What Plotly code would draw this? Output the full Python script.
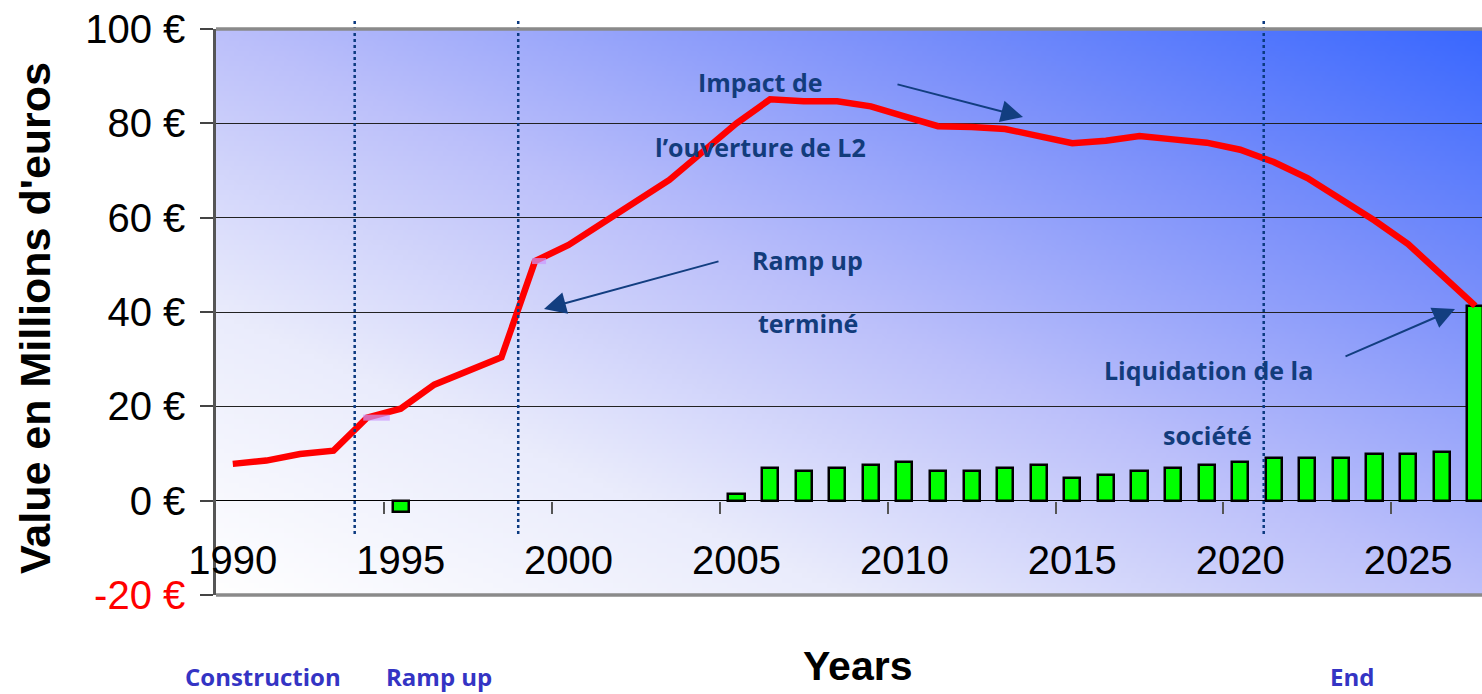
import zlib, struct, base64
import numpy as np
import plotly.graph_objects as go

# ---------------- data ----------------
years = list(range(1990, 2028))
value_line = [7.8, 8.5, 9.9, 10.6, 17.6, 19.5, 24.6, 27.6, 30.4, 50.8,
              54.2, 58.8, 63.3, 68.0, 74.0, 80.0, 85.1, 84.7, 84.7, 83.6,
              81.5, 79.4, 79.2, 78.8, 77.3, 75.8, 76.3, 77.3, 76.6, 75.9,
              74.4, 71.8, 68.4, 64.0, 59.4, 54.4, 48.0, 41.3]
cash_flows = [None, None, None, None, None, -2.3,
              None, None, None, None, None, None, None, None, None,
              1.5, 7.0, 6.2, 7.0, 7.6, 8.3, 6.2, 6.2, 7.0, 7.6, 4.9,
              5.5, 6.2, 7.0, 7.6, 8.3, 9.1, 9.1, 9.1, 9.8, 9.8, 10.4, 41.3]
marker_years = [1994, 1999]
marker_values = [value_line[years.index(y)] for y in marker_years]
x_tick_years = [1990, 1995, 2000, 2005, 2010, 2015, 2020, 2025]
x_tick_labels = [str(y) for y in x_tick_years]
y_tick_vals = [-20, 0, 20, 40, 60, 80, 100]
y_tick_labels = ['<span style="color:#FF0000">-20 €</span>', '0 €', '20 €', '40 €', '60 €', '80 €', '100 €']
phase_lines = [1993.63, 1998.5, 2020.7]

# ---------------- gradient background image ----------------
def gradient_png(w=254, h=114):
    u = np.linspace(0, 1, w)[None, :]
    v = np.linspace(1, 0, h)[:, None]
    t = (u + v) / 2.0
    stops_t = [0.0, 0.25, 0.5, 0.75, 1.0]
    stops_c = np.array([[255, 255, 255], [234, 236, 252], [188, 192, 250],
                        [126, 146, 250], [58, 104, 255]], dtype=float)
    img = np.zeros((h, w, 3))
    for ch in range(3):
        img[:, :, ch] = np.interp(t, stops_t, stops_c[:, ch])
    img = img.astype(np.uint8)
    raw = bytearray()
    for r in range(h):
        raw.append(0)
        raw.extend(img[r].tobytes())

    def chunk(tag, data):
        c = struct.pack('>I', len(data)) + tag + data
        return c + struct.pack('>I', zlib.crc32(tag + data) & 0xffffffff)
    png = (b'\x89PNG\r\n\x1a\n'
           + chunk(b'IHDR', struct.pack('>IIBBBBB', w, h, 8, 2, 0, 0, 0))
           + chunk(b'IDAT', zlib.compress(bytes(raw), 9))
           + chunk(b'IEND', b''))
    return 'data:image/png;base64,' + base64.b64encode(png).decode()

fig = go.Figure()

fig.add_trace(go.Bar(
    x=years, y=cash_flows, width=0.48,
    marker=dict(color='#00FF00', line=dict(color='#000000', width=2.5)),
    showlegend=False, hoverinfo='skip'))

fig.add_trace(go.Scatter(
    x=years, y=value_line, mode='lines',
    line=dict(color='#FF0000', width=6.5),
    showlegend=False, hoverinfo='skip'))

fig.add_trace(go.Scatter(
    x=[y + 0.28 for y in marker_years[:1]] + [y + 0.12 for y in marker_years[1:]],
    y=marker_values, mode='markers',
    marker=dict(symbol='line-ew', size=[19, 10],
                line=dict(color='#CC99FF', width=6)),
    showlegend=False, hoverinfo='skip'))

W, H = 1482, 694
ML, MR, MT, MB = 216, 0, 29, 99
PW, PH = W - ML - MR, H - MT - MB

def px(xp):
    return (xp - ML) / PW

def py(yp):
    return (H - MB - yp) / PH

fig.update_layout(
    width=W, height=H,
    margin=dict(l=ML, r=MR, t=MT, b=MB, pad=0),
    paper_bgcolor='white', plot_bgcolor='rgba(0,0,0,0)',
    bargap=0,
    font=dict(family='Liberation Sans, Arial, sans-serif', color='black'),
    images=[dict(source=gradient_png(), xref='paper', yref='paper', x=0, y=1,
                 sizex=1, sizey=1, xanchor='left', yanchor='top',
                 sizing='stretch', layer='below')],
    xaxis=dict(range=[1989.5, 2027.2], anchor='free', position=20 / 120,
               tickmode='array', tickvals=x_tick_years, ticktext=x_tick_labels,
               ticks='', showgrid=False, showline=False, zeroline=False,
               tickfont=dict(size=40, family='Liberation Sans, Arial'),
               ticklabelstandoff=32,
               minor=dict(tickmode='array',
                          tickvals=[y - 0.5 for y in x_tick_years[1:]] + [2029.5],
                          ticks='outside', ticklen=12, tickcolor='#555555',
                          tickwidth=1.5, showgrid=False)),
    yaxis=dict(range=[-20, 100], tickmode='array', tickvals=y_tick_vals,
               ticktext=y_tick_labels, ticks='outside', ticklen=13,
               tickcolor='#444444', tickwidth=1.5,
               showline=True, linecolor='#555555', linewidth=2.5,
               showgrid=True, gridcolor='#222222', gridwidth=1,
               zeroline=True, zerolinecolor='#000000', zerolinewidth=1,
               ticklabelstandoff=7,
               tickfont=dict(size=40, family='Liberation Sans, Arial')),
)

shapes = []
for xv in phase_lines:
    shapes.append(dict(type='line', xref='x', yref='paper', x0=xv, x1=xv,
                       y0=py(534), y1=py(18),
                       line=dict(color='#0B3A80', width=2.5, dash='dot'),
                       layer='above'))
# plot frame (top and bottom grey edges)
shapes.append(dict(type='line', xref='paper', yref='paper', x0=0, x1=1, y0=1, y1=1,
                   line=dict(color='#8A8A8A', width=3.5), layer='above'))
shapes.append(dict(type='line', xref='paper', yref='paper', x0=0, x1=1, y0=0, y1=0,
                   line=dict(color='#8A8A8A', width=3.5), layer='above'))
fig.update_layout(shapes=shapes)

ann_color = '#123C7C'
ann_font = dict(family='Open Sans, Lato, sans-serif', size=25, color=ann_color, weight='bold')
label_font = dict(family='Open Sans, Lato, sans-serif', size=24, color='#3434C4', weight='bold')

annotations = []
def txt(text, xp, yp, font):
    annotations.append(dict(text=text, xref='paper', yref='paper', x=px(xp), y=py(yp),
                            xanchor='center', yanchor='middle', showarrow=False, font=font))

txt('Impact de', 760, 82, ann_font)
txt('l\u2019ouverture de L2', 760, 147, ann_font)
txt('Ramp up', 807, 260, ann_font)
txt('terminé', 808, 323, ann_font)
txt('Liquidation de la', 1208, 370, ann_font)
txt('société', 1207, 435, ann_font)
txt('Construction', 263, 676, label_font)
txt('Ramp up', 439, 676, label_font)
txt('End', 1352, 676, label_font)
txt('Years', 857, 666, dict(family='Liberation Sans, Arial', size=41, color='black', weight='bold'))

annotations.append(dict(text='Value en Millions d\'euros', xref='paper', yref='paper',
                        x=px(35), y=py(318), textangle=-90, xanchor='center', yanchor='middle',
                        showarrow=False,
                        font=dict(family='Liberation Sans, Arial', size=43, color='black', weight='bold')))

def arrow(tail, tip):
    annotations.append(dict(text='', xref='paper', yref='paper', x=px(tip[0]), y=py(tip[1]),
                            axref='pixel', ayref='pixel', ax=tail[0] - tip[0], ay=tail[1] - tip[1],
                            showarrow=True, arrowhead=2, arrowsize=2.2, arrowwidth=2,
                            arrowcolor='#123E80'))

arrow((896, 84), (1023, 117))
arrow((720, 261), (544, 309))
arrow((1344, 357), (1455, 309))

fig.update_layout(annotations=annotations)

fig.write_html('out.html', config={'displayModeBar': False},
               post_script="document.body.style.margin='0';document.body.style.overflow='hidden';")
